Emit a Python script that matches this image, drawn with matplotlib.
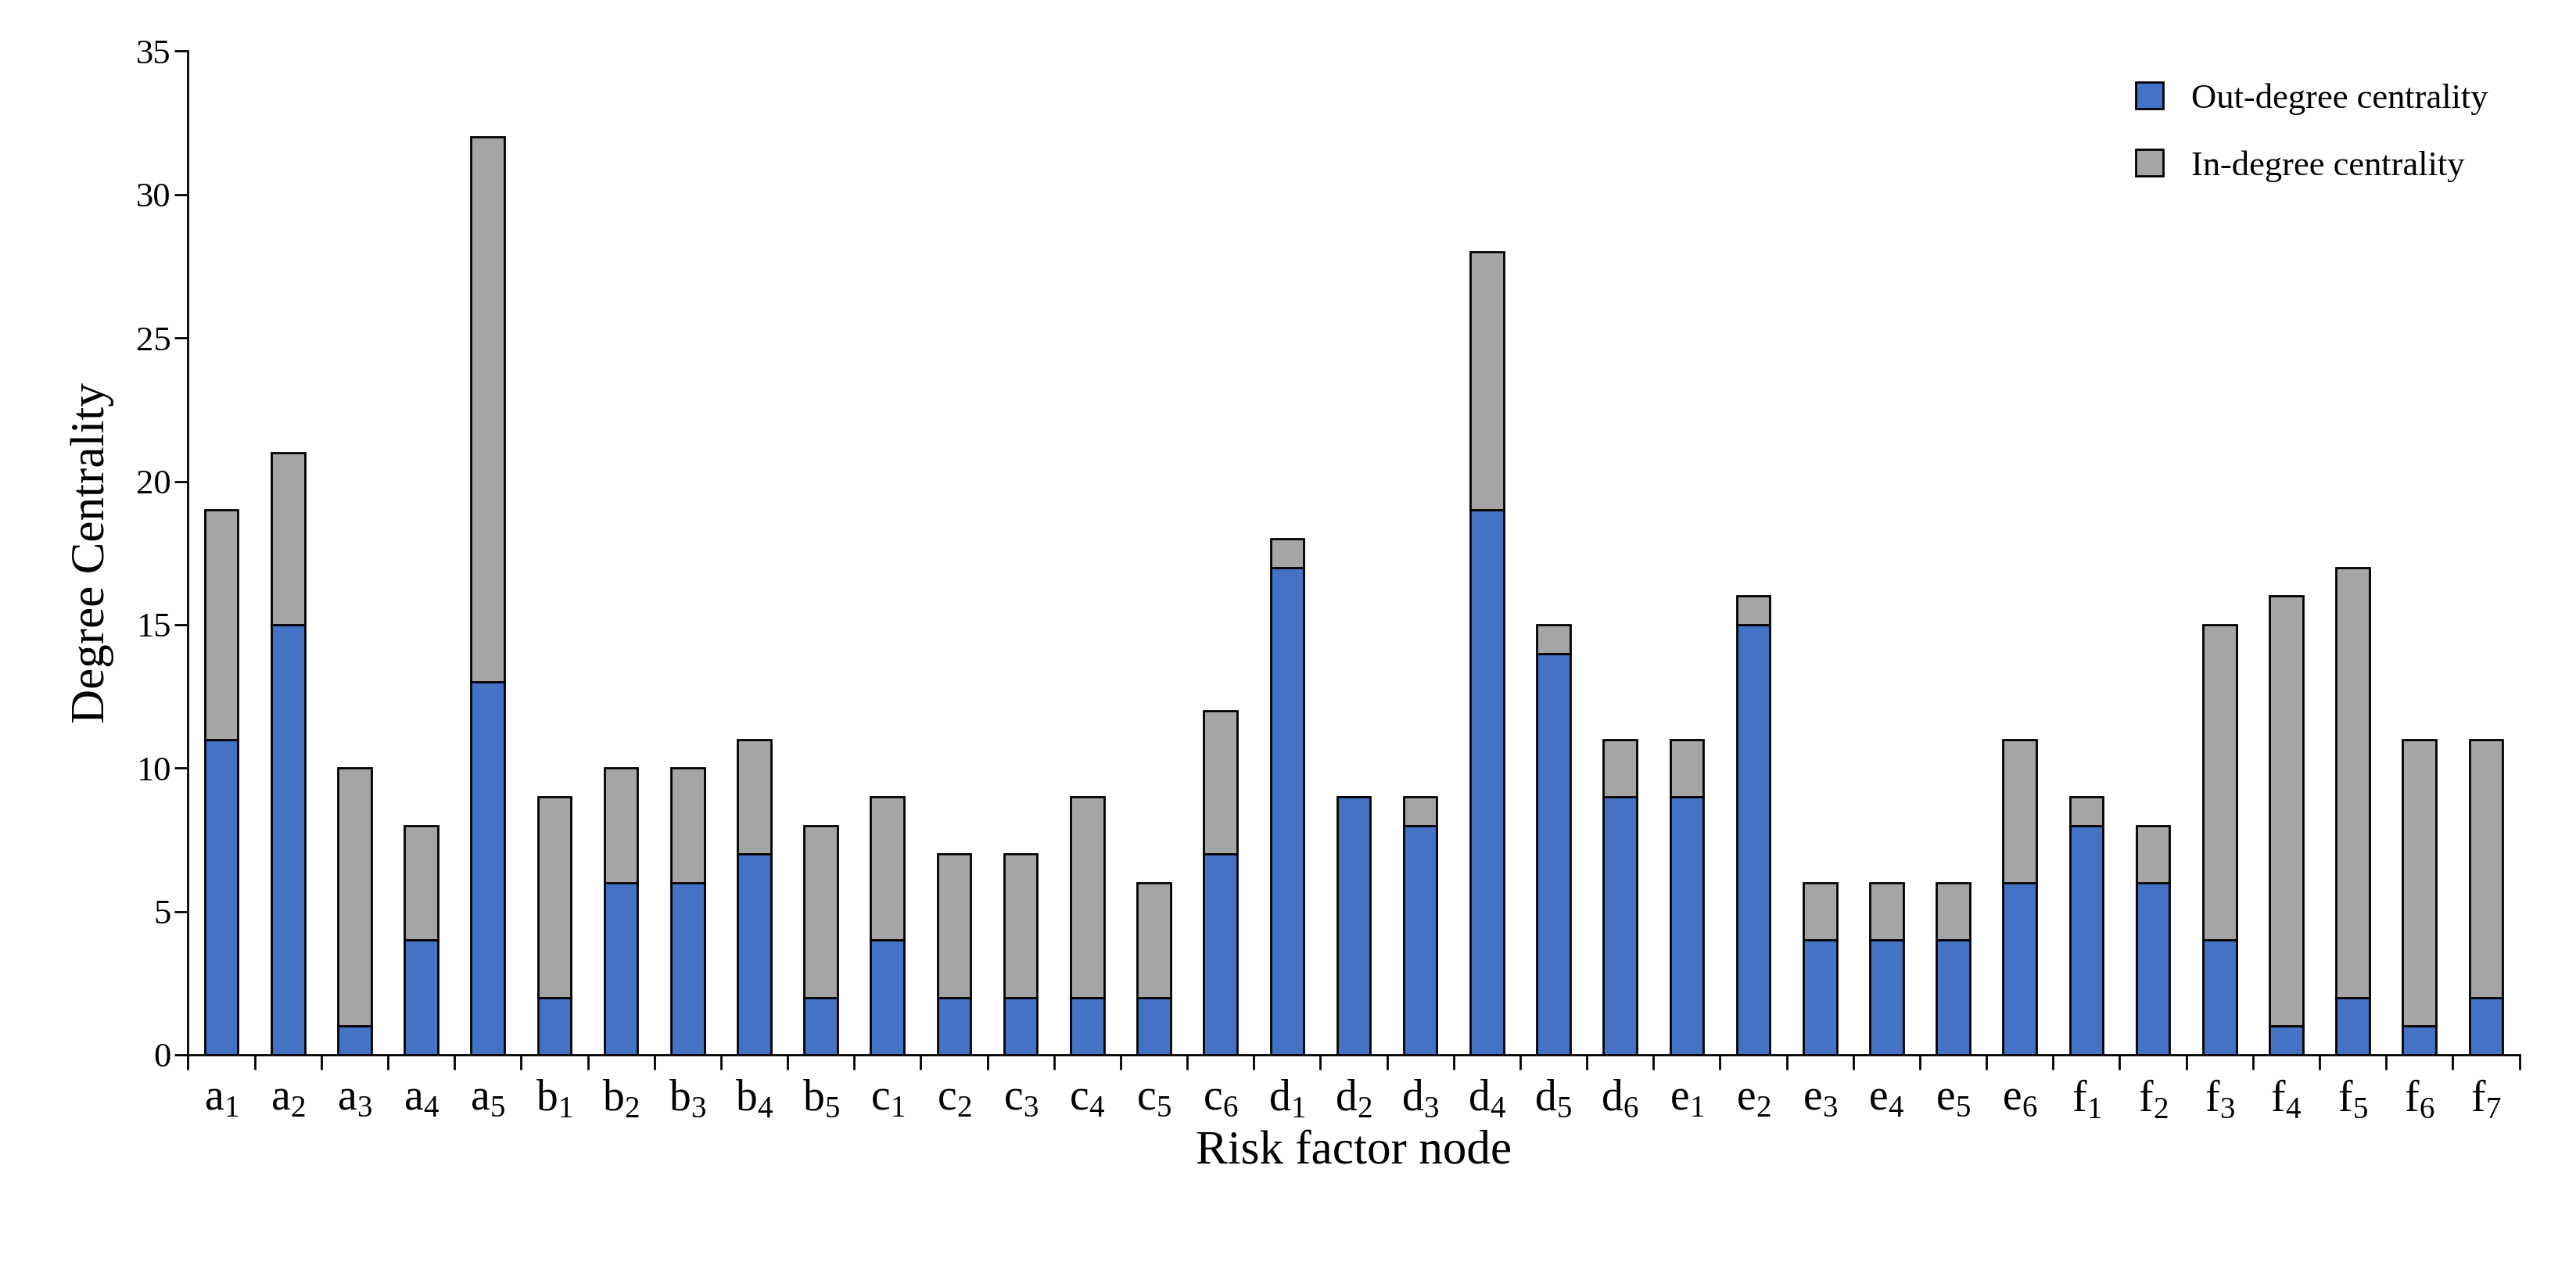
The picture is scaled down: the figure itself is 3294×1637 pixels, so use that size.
import matplotlib.pyplot as plt
import numpy as np

plt.rcParams['font.family'] = ['Liberation Serif', 'DejaVu Serif']
plt.rcParams['mathtext.fontset'] = 'custom'
plt.rcParams['mathtext.rm'] = 'Liberation Serif'

groups = [("a", 5), ("b", 5), ("c", 6), ("d", 6), ("e", 6), ("f", 7)]
labels = [f"{g}$_{{{i}}}$" for g, n in groups for i in range(1, n + 1)]

out_degree = [11, 15, 1, 4, 13, 2, 6, 6, 7, 2, 4, 2, 2, 2, 2, 7,
              17, 9, 8, 19, 14, 9, 9, 15, 4, 4, 4, 6, 8, 6, 4, 1, 2, 1, 2]
in_degree = [8, 6, 9, 4, 19, 7, 4, 4, 4, 6, 5, 5, 5, 7, 4, 5,
             1, 0, 1, 9, 1, 2, 2, 1, 2, 2, 2, 5, 1, 2, 11, 15, 15, 10, 9]

fig = plt.figure(figsize=(32.94, 16.37), dpi=100)
ax = fig.add_axes([0.073, 0.176, 0.905, 0.784])
x = np.arange(len(labels))
ax.bar(x, out_degree, width=0.5, color="#4472C4", edgecolor="black", linewidth=2,
       label="Out-degree centrality")
ax.bar(x, in_degree, width=0.5, bottom=out_degree, color="#A5A5A5", edgecolor="black",
       linewidth=2, label="In-degree centrality")

ax.set_xlim(-0.5, len(labels) - 0.5)
ax.set_ylim(0, 35)
ax.set_yticks(range(0, 36, 5))
ax.set_xticks(x)
ax.set_xticklabels(labels)
ax.set_xticks(np.arange(-0.5, len(labels), 1), minor=True)
ax.tick_params(axis="x", which="major", length=0, labelsize=40, pad=22)
ax.tick_params(axis="x", which="minor", length=14, width=2, direction="out")
ax.tick_params(axis="y", labelsize=32, length=12, width=2, direction="out")
for s in ["top", "right"]:
    ax.spines[s].set_visible(False)
for s in ["left", "bottom"]:
    ax.spines[s].set_linewidth(2)

ax.set_xlabel("Risk factor node", fontsize=44, labelpad=8)
ax.set_ylabel("Degree Centrality", fontsize=44, labelpad=20)
ax.legend(loc="upper right", fontsize=32, frameon=False, handlelength=0.8,
          handleheight=0.8, labelspacing=1.0, bbox_to_anchor=(1.0, 1.0))

fig.savefig("out.png", dpi=100)
